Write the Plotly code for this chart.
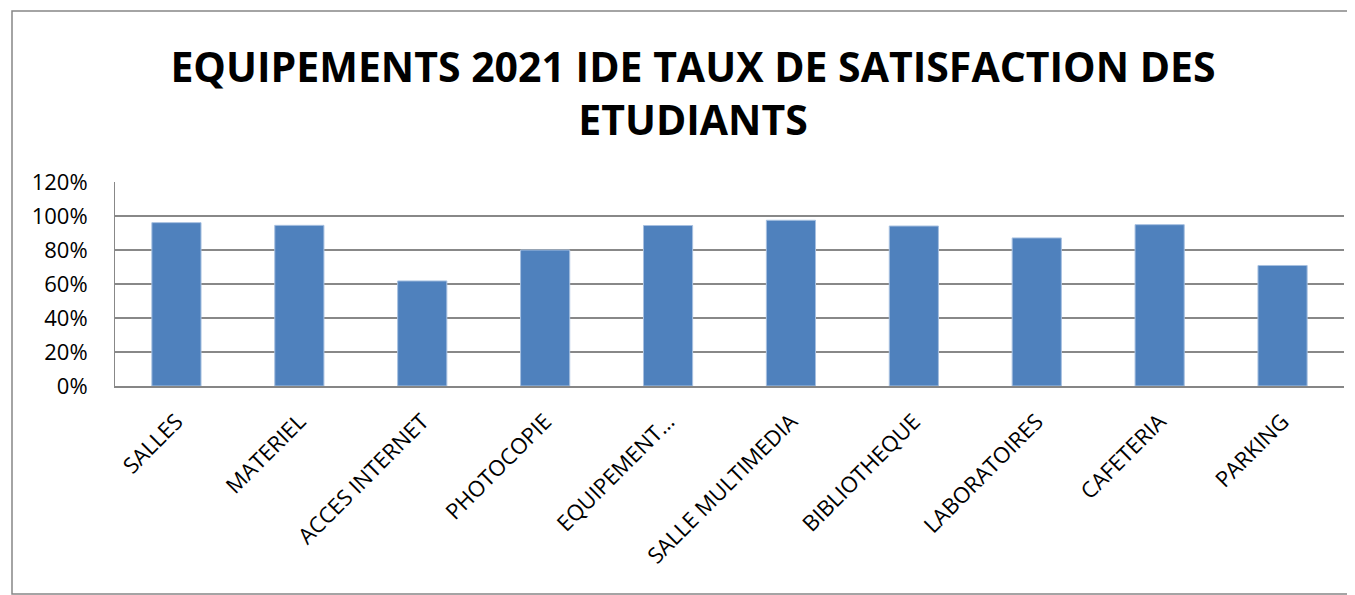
import plotly.graph_objects as go

categories = ["SALLES", "MATERIEL", "ACCES INTERNET", "PHOTOCOPIE", "EQUIPEMENT…",
              "SALLE MULTIMEDIA", "BIBLIOTHEQUE", "LABORATOIRES", "CAFETERIA", "PARKING"]
satisfaction = [0.961, 0.945, 0.618, 0.80, 0.944, 0.975, 0.941, 0.871, 0.949, 0.709]
y_ticks = [0, 0.2, 0.4, 0.6, 0.8, 1.0, 1.2]
y_tick_labels = ["0%", "20%", "40%", "60%", "80%", "100%", "120%"]

fig = go.Figure(go.Bar(
    x=categories, y=satisfaction,
    marker=dict(color="#4F81BD", line=dict(color="#A7C0E0", width=1)),
))

# page body has an 8px margin; figure occupies (8..1355, 8..595)
OFF = 8
W, H = 1355 - OFF, 595 - OFF
ml, mr, mt, mb = 115 - OFF, 11, 182 - OFF, 595 - 386

fig.update_layout(
    width=W, height=H,
    margin=dict(l=ml, r=mr, t=mt, b=mb, autoexpand=False),
    paper_bgcolor="white", plot_bgcolor="white",
    bargap=0.6,
    showlegend=False,
    font=dict(family="Open Sans, sans-serif", color="black"),
    title=dict(
        text="<b>EQUIPEMENTS 2021 IDE TAUX DE SATISFACTION DES<br>ETUDIANTS</b>",
        x=(693 - OFF) / W, xanchor="center", y=1 - (82 - OFF) / H, yanchor="middle",
        font=dict(size=41, family="Open Sans, sans-serif", color="black"),
    ),
    xaxis=dict(
        tickangle=-45, tickfont=dict(size=22), showgrid=False, automargin=False,
        showline=True, linecolor="#868686", linewidth=2, ticks="", ticklabelstandoff=12,
    ),
    yaxis=dict(
        range=[0, 1.2], tickvals=y_ticks, ticktext=y_tick_labels, automargin=False,
        tickfont=dict(size=22), showgrid=True, gridcolor="#888888", gridwidth=2,
        showline=True, linecolor="#888888", linewidth=1, ticks="", zeroline=False,
        ticklabelstandoff=22,
    ),
)

plot_w = W - ml - mr
plot_h = H - mt - mb
bx0, bx1, by0, by1 = 12 - OFF, 1360 - OFF, 11 - OFF, 594 - OFF
fig.add_shape(type="rect", xref="paper", yref="paper",
              x0=(bx0 - ml) / plot_w, x1=(bx1 - ml) / plot_w,
              y0=((H - mb) - by1) / plot_h, y1=((H - mb) - by0) / plot_h,
              line=dict(color="#868686", width=1.5), fillcolor="rgba(0,0,0,0)", layer="below")

fig.write_html("out.html")
